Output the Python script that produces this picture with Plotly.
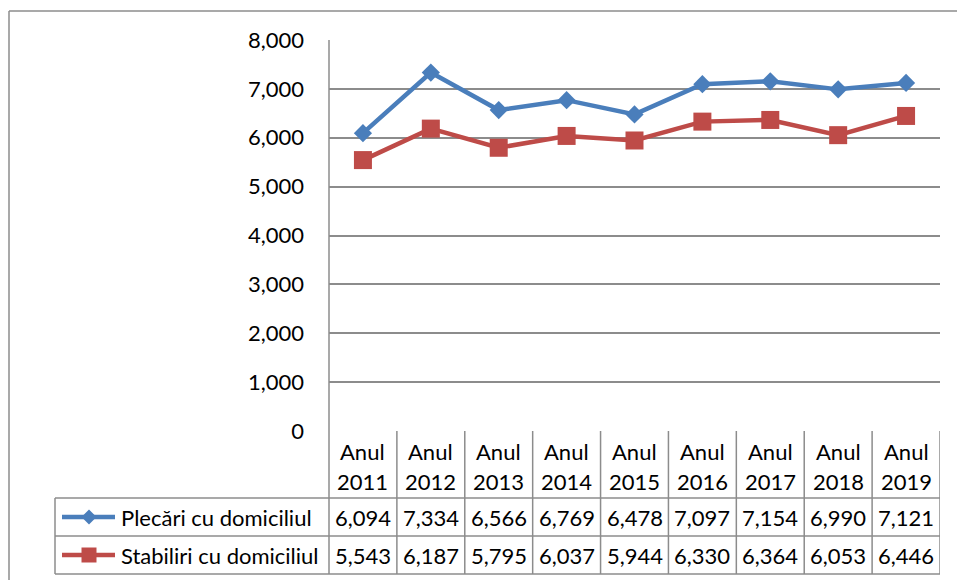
import plotly.graph_objects as go

years = ["2011", "2012", "2013", "2014", "2015", "2016", "2017", "2018", "2019"]
categories = ["Anul " + y for y in years]
series_names = ["Plecări cu domiciliul", "Stabiliri cu domiciliul"]
plecari = [6094, 7334, 6566, 6769, 6478, 7097, 7154, 6990, 7121]
stabiliri = [5543, 6187, 5795, 6037, 5944, 6330, 6364, 6053, 6446]
y_ticks = [0, 1000, 2000, 3000, 4000, 5000, 6000, 7000, 8000]

W, H = 957, 580
FONT = "Lato"
FS = 22
GRID = "#8c8c8c"
BLUE = "#4A7EBB"
RED = "#BE4B48"

def px(x):
    return x / W

def py(y):
    return 1 - y / H

PL, PR, PT, PB = 329, 940, 40, 431
idx = list(range(len(categories)))

fig = go.Figure()
fig.add_trace(go.Scatter(x=idx, y=plecari, mode="lines+markers", name=series_names[0],
                         line=dict(color=BLUE, width=4.5),
                         marker=dict(symbol="diamond", size=14, color=BLUE)))
fig.add_trace(go.Scatter(x=idx, y=stabiliri, mode="lines+markers", name=series_names[1],
                         line=dict(color=RED, width=4.5),
                         marker=dict(symbol="square", size=18, color=RED)))

shapes = []
def hline(x0, x1, y, xref="paper", w=1.5):
    shapes.append(dict(type="line", xref=xref, yref="paper", x0=x0, x1=x1, y0=py(y), y1=py(y),
                       line=dict(color=GRID, width=w)))

def vline(x, y0, y1, xref="paper", w=1.5):
    shapes.append(dict(type="line", xref=xref, yref="paper", x0=x, x1=x, y0=py(y0), y1=py(y1),
                       line=dict(color=GRID, width=w)))

# outer chart border
hline(px(9), px(957), 11)
vline(px(9), 11, 580)

ROW1_T, ROW2_T, ROW2_B = 498, 536, 574
for yy in (ROW1_T, ROW2_T, ROW2_B):
    hline(px(55), px(PR), yy)
vline(px(55), ROW1_T, ROW2_B)
vline(px(PL), PT, ROW2_B)
n = len(categories)
for i in range(1, n + 1):
    vline(i - 0.5, PB, ROW2_B, xref="x")

annotations = []
def txt(x, y, s, xref="x", xanchor="center"):
    annotations.append(dict(x=x, y=py(y), xref=xref, yref="paper", text=s, showarrow=False,
                            xanchor=xanchor, yanchor="middle",
                            font=dict(family=FONT, size=FS, color="black")))

for i, y in enumerate(years):
    txt(i, 451, "Anul")
    txt(i, 481, y)
    txt(i, 517, f"{plecari[i]:,}")
    txt(i, 555, f"{stabiliri[i]:,}")

txt(px(119), 517, series_names[0], xref="paper", xanchor="left")
txt(px(119), 555, series_names[1], xref="paper", xanchor="left")
for yy, col in ((517, BLUE), (555, RED)):
    shapes.append(dict(type="line", xref="paper", yref="paper", x0=px(62), x1=px(115),
                       y0=py(yy), y1=py(yy), line=dict(color=col, width=4.5)))
cx = 89
d = 7.5
shapes.append(dict(type="path", xref="paper", yref="paper",
                   path=f"M {px(cx-d)} {py(517)} L {px(cx)} {py(517-d)} L {px(cx+d)} {py(517)} L {px(cx)} {py(517+d)} Z",
                   fillcolor=BLUE, line=dict(width=0)))
s = 7.5
shapes.append(dict(type="rect", xref="paper", yref="paper", x0=px(cx-s), x1=px(cx+s),
                   y0=py(555+s), y1=py(555-s), fillcolor=RED, line=dict(width=0)))

fig.update_layout(
    width=W, height=H, autosize=False,
    margin=dict(l=0, r=0, t=0, b=0, pad=0, autoexpand=False),
    paper_bgcolor="white", plot_bgcolor="white",
    showlegend=False,
    shapes=shapes, annotations=annotations,
    xaxis=dict(domain=[px(PL), px(PR)], range=[-0.5, n - 0.5], showticklabels=False,
               showgrid=False, zeroline=False, showline=False, fixedrange=True, automargin=False),
    yaxis=dict(domain=[py(PB), py(PT)], range=[0, 8000], tickvals=y_ticks,
               tickformat=",", showgrid=True, gridcolor=GRID, gridwidth=1.5,
               zeroline=False, showline=False, ticks="", ticklabelstandoff=24, automargin=False,
               tickfont=dict(family=FONT, size=FS, color="black")),
)

fig.write_html("out.html", config={"displayModeBar": False},
               post_script="document.body.style.margin='0';document.body.style.overflow='hidden';")
